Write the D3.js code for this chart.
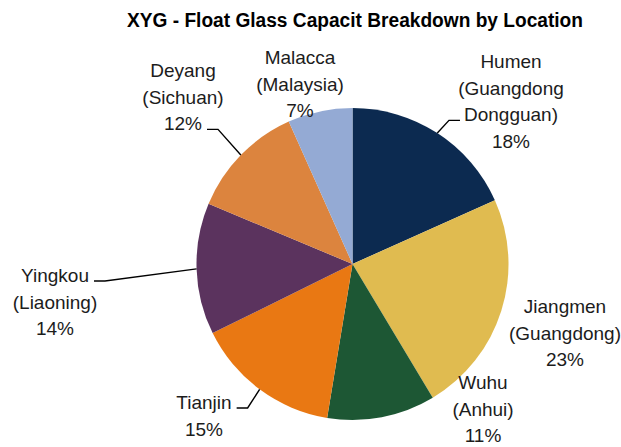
<!DOCTYPE html>
<html>
<head>
<meta charset="UTF-8">
<title>XYG capacity pie</title>
<script src="https://cdnjs.cloudflare.com/ajax/libs/d3/7.8.5/d3.min.js"></script>
<style>
  body { margin: 0; background: #fff; }
  svg { display: block; }
  .lbl { font-family: "Liberation Sans", Arial, sans-serif; font-size: 19px; fill: #1c1c1c; }
  .title { font-family: "Liberation Sans Narrow", "Liberation Sans", Arial, sans-serif; font-size: 19.5px; font-weight: bold; fill: #000; }
</style>
</head>
<body>
<svg id="chart"></svg>
<script>
// data
var categories = ["Humen", "Jiangmen", "Wuhu", "Tianjin", "Yingkou", "Deyang", "Malacca"];
var regions = [["(Guangdong", "Dongguan)"], ["(Guangdong)"], ["(Anhui)"], [], ["(Liaoning)"], ["(Sichuan)"], ["(Malaysia)"]];
var shares = [18.3, 23.1, 11.2, 15.1, 13.6, 12.0, 6.7];
var colors = ["#0c2a50", "#e0bb50", "#1d5734", "#e97813", "#5b335e", "#dc843e", "#94aad4"];

// label placement: centre x, first baseline, line the leader hooks on, side
var labelLayout = [
  { x: 511, y: 68, hook: 2, side: "left" },
  { x: 565, y: 313 },
  { x: 483, y: 389 },
  { x: 204, y: 409, hook: 0, side: "right" },
  { x: 55, y: 282, hook: 0, side: "right" },
  { x: 183, y: 77, hook: 2, side: "right" },
  { x: 300, y: 64 }
];

var W = 621, H = 447;
var cx = 352.5, cy = 264, R = 156;
var lineGap = 26.7;

var svg = d3.select("#chart").attr("width", W).attr("height", H);

svg.append("text")
  .attr("class", "title")
  .attr("x", 355)
  .attr("y", 27)
  .attr("text-anchor", "middle")
  .attr("textLength", 456)
  .attr("lengthAdjust", "spacingAndGlyphs")
  .text("XYG - Float Glass Capacit Breakdown by Location");

var pie = d3.pie().sort(null).value(function (d) { return d; });
var arcs = pie(shares);
var arc = d3.arc().innerRadius(0).outerRadius(R);

var g = svg.append("g").attr("transform", "translate(" + cx + "," + cy + ")");

g.selectAll("path.slice")
  .data(arcs)
  .enter().append("path")
  .attr("class", "slice")
  .attr("d", arc)
  .attr("fill", function (d, i) { return colors[i]; });

// labels
arcs.forEach(function (a, i) {
  var lay = labelLayout[i];
  var lines = [categories[i]].concat(regions[i]).concat([Math.round(shares[i]) + "%"]);
  var t = svg.append("text").attr("class", "lbl").attr("text-anchor", "middle");
  var spans = [];
  lines.forEach(function (s, k) {
    spans.push(t.append("tspan").attr("x", lay.x).attr("y", lay.y + k * lineGap).text(s));
  });

  if (lay.hook !== undefined) {
    var sp = spans[lay.hook].node();
    var w = sp.getComputedTextLength();
    var ly = lay.y + lay.hook * lineGap - 1;
    var x0 = lay.side === "left" ? lay.x - w / 2 - 4 : lay.x + w / 2 + 5;
    var x1 = lay.side === "left" ? x0 - 11 : x0 + 11;
    var mid = (a.startAngle + a.endAngle) / 2;
    var ex = cx + R * Math.sin(mid), ey = cy - R * Math.cos(mid);
    svg.append("path")
      .attr("d", d3.line()([[x0, ly], [x1, ly], [ex, ey]]))
      .attr("fill", "none")
      .attr("stroke", "#000")
      .attr("stroke-width", 1.4);
  }
});
</script>
</body>
</html>
